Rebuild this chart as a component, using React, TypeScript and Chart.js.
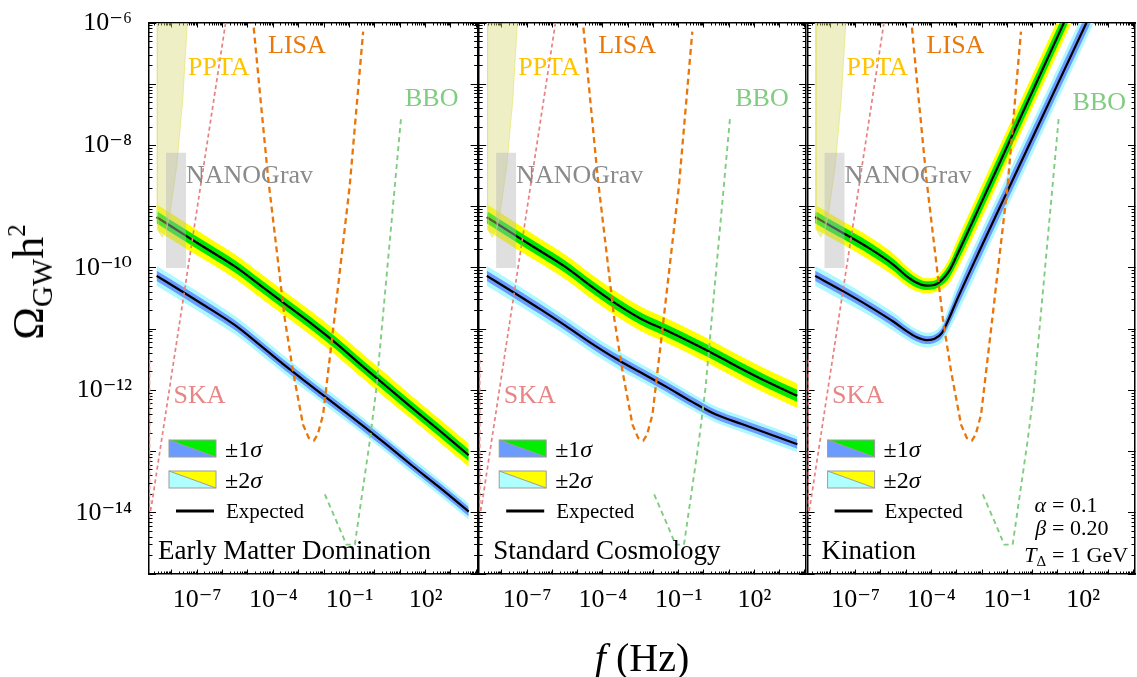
import React, { useEffect, useRef } from 'react';
import { Chart, registerables } from 'chart.js';

Chart.register(...registerables);

const SERIF = '"Liberation Serif", "DejaVu Serif", serif';

// ---------------- axes (log10 ranges) and labelled ticks ----------------
const xRangeLog10 = [-8.9, 4.05];
const yRangeLog10 = [-15, -6];
const xTickValues = [1e-7, 1e-4, 1e-1, 1e2];
const xTickLabels = ['10⁻⁷', '10⁻⁴', '10⁻¹', '10²'];
const yTickValues = [1e-6, 1e-8, 1e-10, 1e-12, 1e-14];
const yTickLabels = ['10⁻⁶', '10⁻⁸', '10⁻¹⁰', '10⁻¹²', '10⁻¹⁴'];

const panelTitles = ['Early Matter Domination', 'Standard Cosmology', 'Kination'];

// ---------------- GW signal bands: log10(f / Hz), log10(Ω h²), half widths in dex ----------------
const powerLawFreqLog = [-8.6, -7.5, -6.5, -5.5, -4.5, -3.5, -2.5, -1.5, -0.5, 0.5, 1.5, 2.5, 3.7];

const emdUpperLog = [-9.17, -9.46, -9.72, -9.98, -10.29, -10.6, -10.91, -11.24, -11.6, -11.95, -12.3, -12.64, -13.06];
const emdUpper1Sigma = [0.1, 0.1, 0.1, 0.1, 0.1, 0.1, 0.1, 0.1, 0.1, 0.1, 0.1, 0.1, 0.095];
const emdUpper2Sigma = [0.21, 0.21, 0.2, 0.2, 0.2, 0.2, 0.2, 0.2, 0.2, 0.2, 0.19, 0.19, 0.19];
const emdLowerLog = [-10.13, -10.41, -10.67, -10.94, -11.27, -11.61, -11.93, -12.25, -12.57, -12.9, -13.24, -13.57, -13.98];
const emdLower1Sigma = [0.085, 0.085, 0.085, 0.08, 0.08, 0.08, 0.08, 0.08, 0.08, 0.08, 0.075, 0.075, 0.075];
const emdLower2Sigma = [0.16, 0.16, 0.155, 0.15, 0.15, 0.145, 0.14, 0.14, 0.135, 0.13, 0.13, 0.13, 0.13];

const stdUpperLog = [-9.17, -9.46, -9.72, -9.98, -10.29, -10.58, -10.83, -11.02, -11.22, -11.43, -11.65, -11.86, -12.09];
const stdUpper1Sigma = [0.1, 0.1, 0.1, 0.1, 0.1, 0.1, 0.1, 0.1, 0.1, 0.1, 0.1, 0.1, 0.1];
const stdUpper2Sigma = [0.21, 0.21, 0.2, 0.2, 0.2, 0.2, 0.2, 0.2, 0.2, 0.2, 0.2, 0.2, 0.2];
const stdLowerLog = [-10.13, -10.41, -10.67, -10.94, -11.22, -11.48, -11.71, -11.94, -12.18, -12.4, -12.55, -12.7, -12.88];
const stdLower1Sigma = [0.085, 0.085, 0.085, 0.08, 0.08, 0.08, 0.08, 0.08, 0.08, 0.075, 0.075, 0.075, 0.075];
const stdLower2Sigma = [0.16, 0.16, 0.155, 0.15, 0.15, 0.145, 0.14, 0.14, 0.135, 0.13, 0.13, 0.13, 0.13];

const kinFreqLog = [-8.6, -7.5, -6.5, -5.5, -5.0, -4.6, -4.2, -3.9, -3.6, -3.3, -3.0, -2.0, -1.0, 0.0, 1.0, 2.0, 3.0];
const kinUpperLog = [-9.17, -9.43, -9.67, -9.95, -10.13, -10.24, -10.29, -10.28, -10.2, -10.05, -9.8, -8.91, -8.01, -7.11, -6.21, -5.31, -4.41];
const kinUpper1Sigma = [0.1, 0.1, 0.1, 0.095, 0.09, 0.08, 0.07, 0.07, 0.085, 0.11, 0.13, 0.15, 0.15, 0.15, 0.15, 0.15, 0.15];
const kinUpper2Sigma = [0.2, 0.19, 0.19, 0.18, 0.16, 0.14, 0.12, 0.12, 0.15, 0.2, 0.24, 0.27, 0.27, 0.27, 0.27, 0.27, 0.27];
const kinLowerLog = [-10.13, -10.38, -10.62, -10.88, -11.03, -11.13, -11.18, -11.16, -11.07, -10.82, -10.53, -9.63, -8.75, -7.87, -6.99, -6.11, -5.23];
const kinLower1Sigma = [0.085, 0.085, 0.08, 0.08, 0.075, 0.07, 0.065, 0.065, 0.08, 0.11, 0.13, 0.15, 0.15, 0.15, 0.15, 0.15, 0.15];
const kinLower2Sigma = [0.16, 0.16, 0.15, 0.15, 0.14, 0.13, 0.12, 0.12, 0.15, 0.2, 0.24, 0.26, 0.26, 0.26, 0.26, 0.26, 0.26];

// ---------------- detector sensitivities (log10 f, log10 Ω h²) ----------------
const skaFreqLog = [-8.88, -8.88, -8.8, -8.5, -8.0, -7.5, -7.0, -6.5, -6.0, -5.6];
const skaOmegaLog = [-11.5, -14.05, -13.88, -13.07, -11.72, -10.37, -9.02, -7.67, -6.32, -5.24];
const lisaFreqLog = [-4.85, -4.79, -4.5, -4.2, -3.9, -3.55, -3.22, -2.83, -2.6, -2.4, -2.25, -2.04, -1.64, -1.3, -0.99, -0.7, -0.46];
const lisaOmegaLog = [-5.75, -6.0, -7.27, -8.55, -9.6, -10.83, -11.7, -12.56, -12.78, -12.82, -12.72, -12.4, -10.99, -9.77, -8.66, -7.28, -6.14];
const bboFreqLog = [-1.97, -1.5, -1.12, -0.79, -0.5, -0.2, 0.06, 0.32, 0.7, 1.04];
const bboOmegaLog = [-13.7, -14.15, -14.52, -14.52, -13.69, -12.83, -11.97, -10.78, -9.06, -7.52];
const pptaFreqLog = [-8.57, -8.57, -8.52, -8.38, -8.2, -8.07, -7.81, -7.57, -7.39, -7.37];
const pptaOmegaLog = [-5.9, -9.1, -9.4, -9.5, -9.35, -9.1, -8.34, -7.25, -6.0, -5.9];
const nanogravFreqLog = [-8.23, -7.44, -7.44, -8.23];
const nanogravOmegaLog = [-8.12, -8.12, -10.0, -10.0];

// ---------------- layout ----------------
const W = 1137;
const H = 677;
const panelLeft = [149, 479.2, 807.6];
const panelRight = [477.6, 806.2, 1135];
const plotTop = 23;
const plotBottom = 574;

type PanelData = {
  f: number[]; up: number[]; up1: number[]; up2: number[]; lo: number[]; lo1: number[]; lo2: number[];
};
const panels: PanelData[] = [
  { f: powerLawFreqLog, up: emdUpperLog, up1: emdUpper1Sigma, up2: emdUpper2Sigma, lo: emdLowerLog, lo1: emdLower1Sigma, lo2: emdLower2Sigma },
  { f: powerLawFreqLog, up: stdUpperLog, up1: stdUpper1Sigma, up2: stdUpper2Sigma, lo: stdLowerLog, lo1: stdLower1Sigma, lo2: stdLower2Sigma },
  { f: kinFreqLog, up: kinUpperLog, up1: kinUpper1Sigma, up2: kinUpper2Sigma, lo: kinLowerLog, lo1: kinLower1Sigma, lo2: kinLower2Sigma },
];

const toPoints = (fLog: number[], omegaLog: number[], widthDex?: number[], sign = 0) =>
  fLog.map((lf, i) => ({ x: Math.pow(10, lf), y: Math.pow(10, omegaLog[i] + (widthDex ? sign * widthDex[i] : 0)) }));

function decadeTicks(lo: number, hi: number) {
  const out: number[] = [];
  for (let n = Math.ceil(lo - 1e-9); n <= Math.floor(hi + 1e-9); n++) out.push(Math.pow(10, n));
  return out;
}
function minorTicks(lo: number, hi: number) {
  const out: number[] = [];
  for (let n = Math.floor(lo); n <= Math.floor(hi); n++) {
    for (let k = 2; k <= 9; k++) {
      const v = k * Math.pow(10, n);
      const l = Math.log10(v);
      if (l > lo && l < hi) out.push(v);
    }
  }
  return out;
}

function labelFor(values: number[], labels: string[]) {
  return (value: number) => {
    const i = values.findIndex((v) => Math.abs(Math.log10(v) - Math.log10(value)) < 1e-6);
    return i >= 0 ? labels[i] : '';
  };
}

function logAxis(
  axis: 'x' | 'y', position: string, range: number[], tickVals: number[], len: number,
  border: boolean, size: number, weight: number,
  labels: null | { values: number[]; texts: string[]; padding: number },
) {
  return {
    type: 'logarithmic',
    axis,
    position,
    weight,
    min: Math.pow(10, range[0]),
    max: Math.pow(10, range[1]),
    z: 1,
    afterBuildTicks: (s: any) => { s.ticks = tickVals.map((v) => ({ value: v })); },
    afterFit: (s: any) => {
      if (axis === 'x') s.height = size; else s.width = size;
      s.paddingLeft = 0; s.paddingRight = 0; s.paddingTop = 0; s.paddingBottom = 0;
    },
    grid: { display: true, drawOnChartArea: false, drawTicks: true, tickLength: -len, tickWidth: 1, tickColor: '#000', color: '#000' },
    border: { display: border, color: '#000', width: 1.5 },
    ticks: {
      display: !!labels,
      autoSkip: false,
      maxRotation: 0,
      minRotation: 0,
      padding: labels ? labels.padding : 0,
      color: '#000',
      font: { family: SERIF, size: 26 },
      callback: labels ? labelFor(labels.values, labels.texts) : () => '',
    },
  };
}

type Run = { t: string; size: number; italic?: boolean; dy?: number };
function drawRuns(ctx: CanvasRenderingContext2D, runs: Run[], x: number, y: number, color: string, align: 'left' | 'right' = 'left') {
  ctx.fillStyle = color;
  ctx.textBaseline = 'alphabetic';
  ctx.textAlign = 'left';
  const fonts = runs.map((r) => `${r.italic ? 'italic ' : ''}${r.size}px ${SERIF}`);
  const widths = runs.map((r, i) => { ctx.font = fonts[i]; return ctx.measureText(r.t).width; });
  const total = widths.reduce((a, b) => a + b, 0);
  let cx = align === 'right' ? x - total : x;
  runs.forEach((r, i) => { ctx.font = fonts[i]; ctx.fillText(r.t, cx, y + (r.dy || 0)); cx += widths[i]; });
}

function swatch(ctx: CanvasRenderingContext2D, x: number, y: number, w: number, h: number, lowerLeft: string, upperRight: string) {
  ctx.fillStyle = lowerLeft;
  ctx.beginPath(); ctx.moveTo(x, y); ctx.lineTo(x, y + h); ctx.lineTo(x + w, y + h); ctx.closePath(); ctx.fill();
  ctx.fillStyle = upperRight;
  ctx.beginPath(); ctx.moveTo(x, y); ctx.lineTo(x + w, y); ctx.lineTo(x + w, y + h); ctx.closePath(); ctx.fill();
  ctx.strokeStyle = '#9c9c9c'; ctx.lineWidth = 1;
  ctx.strokeRect(x, y, w, h);
  ctx.beginPath(); ctx.moveTo(x, y); ctx.lineTo(x + w, y + h); ctx.stroke();
}

function annotationPlugin(k: number) {
  return {
    id: 'gwAnnotations',
    afterDatasetsDraw(chart: any) {
      const { ctx, chartArea: a } = chart;
      const L = a.left;
      const T = a.top;
      ctx.save();
      ctx.beginPath(); ctx.rect(a.left, a.top, a.right - a.left, a.bottom - a.top); ctx.clip();
      drawRuns(ctx, [{ t: 'PPTA', size: 26 }], L + 39, T + 52, '#ffc400');
      drawRuns(ctx, [{ t: 'LISA', size: 26 }], L + 119, T + 30, '#e8780c');
      drawRuns(ctx, [{ t: 'NANOGrav', size: 26 }], L + 37, T + 160, '#8a8a8a');
      drawRuns(ctx, [{ t: 'BBO', size: 26 }], L + (k === 2 ? 265 : 256), T + (k === 2 ? 87 : 83), '#80cc80');
      drawRuns(ctx, [{ t: 'SKA', size: 26 }], L + 24.5, T + 380, '#e88686');
      // legend
      swatch(ctx, L + 20, T + 417, 47, 17, '#6b9bff', '#00ee00');
      swatch(ctx, L + 20, T + 448, 47, 17, '#b0ffff', '#ffff00');
      drawRuns(ctx, [{ t: '±1', size: 24 }, { t: 'σ', size: 24, italic: true }], L + 76, T + 434, '#000');
      drawRuns(ctx, [{ t: '±2', size: 24 }, { t: 'σ', size: 24, italic: true }], L + 76, T + 465, '#000');
      ctx.strokeStyle = '#000'; ctx.lineWidth = 3;
      ctx.beginPath(); ctx.moveTo(L + 27, T + 488); ctx.lineTo(L + 65, T + 488); ctx.stroke();
      drawRuns(ctx, [{ t: 'Expected', size: 21 }], L + 77, T + 495, '#000');
      // panel title
      drawRuns(ctx, [{ t: panelTitles[k], size: 27 }], L + (k === 0 ? 9 : 14), T + 536, '#000');
      if (k === 2) {
        const lx = L + 238.5;
        const rx = L + 244.5;
        drawRuns(ctx, [{ t: 'α', size: 22, italic: true }], lx, T + 489, '#000', 'right');
        drawRuns(ctx, [{ t: '= 0.1', size: 22 }], rx, T + 489, '#000');
        drawRuns(ctx, [{ t: 'β', size: 22, italic: true }], lx, T + 512, '#000', 'right');
        drawRuns(ctx, [{ t: '= 0.20', size: 22 }], rx, T + 512, '#000');
        drawRuns(ctx, [{ t: 'T', size: 22, italic: true }, { t: 'Δ', size: 15, dy: 4 }], lx, T + 539, '#000', 'right');
        drawRuns(ctx, [{ t: '= 1 GeV', size: 22 }], rx, T + 539, '#000');
      }
      ctx.restore();
    },
  };
}

function buildConfig(k: number): any {
  const p = panels[k];
  const hidden = 'rgba(0,0,0,0)';
  const base = { pointRadius: 0, pointHoverRadius: 0, xAxisID: 'x', yAxisID: 'y', fill: false, tension: 0 };
  const band = { ...base, borderColor: hidden, borderWidth: 0, cubicInterpolationMode: 'monotone' };
  const datasets = [
    { ...base, label: 'NANOGrav', data: toPoints(nanogravFreqLog, nanogravOmegaLog), fill: 'shape', backgroundColor: 'rgba(185,185,185,0.45)', borderColor: hidden, borderWidth: 0, order: 0 },
    { ...base, label: 'PPTA', data: toPoints(pptaFreqLog, pptaOmegaLog), fill: 'shape', backgroundColor: 'rgba(218,218,120,0.42)', borderColor: 'rgba(230,230,110,0.7)', borderWidth: 1, order: 1 },
    { ...base, label: 'SKA', data: toPoints(skaFreqLog, skaOmegaLog), borderColor: '#e88080', borderWidth: 1.7, borderDash: [4, 3], order: 2 },
    { ...base, label: 'LISA', data: toPoints(lisaFreqLog, lisaOmegaLog), borderColor: '#e8760a', borderWidth: 2.3, borderDash: [6, 4], order: 3 },
    { ...base, label: 'BBO', data: toPoints(bboFreqLog, bboOmegaLog), borderColor: '#80cc80', borderWidth: 1.9, borderDash: [5, 4], order: 4 },
    { ...base, label: 'Expected (upper)', data: toPoints(p.f, p.up), borderColor: '#000', borderWidth: 2.2, cubicInterpolationMode: 'monotone', order: 5 },
    { ...band, label: 'upper +1σ', data: toPoints(p.f, p.up, p.up1, 1), fill: '+1', backgroundColor: '#00e800', order: 6 },
    { ...band, label: 'upper -1σ', data: toPoints(p.f, p.up, p.up1, -1), order: 6 },
    { ...band, label: 'upper +2σ', data: toPoints(p.f, p.up, p.up2, 1), fill: '+1', backgroundColor: '#ffff00', order: 7 },
    { ...band, label: 'upper -2σ', data: toPoints(p.f, p.up, p.up2, -1), order: 7 },
    { ...base, label: 'Expected (lower)', data: toPoints(p.f, p.lo), borderColor: '#000', borderWidth: 2.2, cubicInterpolationMode: 'monotone', order: 5 },
    { ...band, label: 'lower +1σ', data: toPoints(p.f, p.lo, p.lo1, 1), fill: '+1', backgroundColor: '#6b9bff', order: 8 },
    { ...band, label: 'lower -1σ', data: toPoints(p.f, p.lo, p.lo1, -1), order: 8 },
    { ...band, label: 'lower +2σ', data: toPoints(p.f, p.lo, p.lo2, 1), fill: '+1', backgroundColor: '#aef8ff', order: 9 },
    { ...band, label: 'lower -2σ', data: toPoints(p.f, p.lo, p.lo2, -1), order: 9 },
  ];

  const xMaj = decadeTicks(xRangeLog10[0], xRangeLog10[1]);
  const xMin = minorTicks(xRangeLog10[0], xRangeLog10[1]);
  const yMaj = decadeTicks(yRangeLog10[0], yRangeLog10[1]);
  const yMin = minorTicks(yRangeLog10[0], yRangeLog10[1]);
  const yLabelWidth = k === 0 ? panelLeft[0] : 0;

  return {
    type: 'line',
    data: { datasets },
    plugins: [annotationPlugin(k)],
    options: {
      responsive: false,
      animation: false,
      events: [],
      layout: {
        autoPadding: false,
        padding: { left: panelLeft[k] - yLabelWidth, right: W - panelRight[k], top: plotTop, bottom: 0 },
      },
      plugins: { legend: { display: false }, tooltip: { enabled: false }, title: { display: false } },
      scales: {
        xMinor: logAxis('x', 'bottom', xRangeLog10, xMin, 2.5, false, 0, 0, null),
        x: logAxis('x', 'bottom', xRangeLog10, xMaj, 4.5, true, H - plotBottom, 1, { values: xTickValues, texts: xTickLabels, padding: 15 }),
        xTopMinor: logAxis('x', 'top', xRangeLog10, xMin, 2.5, false, 0, 0, null),
        xTop: logAxis('x', 'top', xRangeLog10, xMaj, 4.5, true, 0, 1, null),
        yMinor: logAxis('y', 'left', yRangeLog10, yMin, 3.5, false, 0, 0, null),
        y: logAxis('y', 'left', yRangeLog10, yMaj, 7, true, yLabelWidth, 1, k === 0 ? { values: yTickValues, texts: yTickLabels, padding: 24 } : null),
        yRightMinor: logAxis('y', 'right', yRangeLog10, yMin, 3.5, false, 0, 0, null),
        yRight: logAxis('y', 'right', yRangeLog10, yMaj, 7, true, 0, 1, null),
      },
    },
  };
}

export default function App() {
  const r0 = useRef<HTMLCanvasElement>(null);
  const r1 = useRef<HTMLCanvasElement>(null);
  const r2 = useRef<HTMLCanvasElement>(null);
  useEffect(() => {
    const charts = [r0, r1, r2].map((r, k) => new Chart(r.current as HTMLCanvasElement, buildConfig(k)));
    return () => charts.forEach((c) => c.destroy());
  }, []);
  const canvasStyle: React.CSSProperties = { position: 'absolute', left: 0, top: 0, width: W, height: H };
  return (
    <div style={{ position: 'absolute', left: 0, top: 0, width: W, height: H, background: '#fff', overflow: 'hidden' }}>
      <canvas ref={r0} width={W} height={H} style={canvasStyle} />
      <canvas ref={r1} width={W} height={H} style={canvasStyle} />
      <canvas ref={r2} width={W} height={H} style={canvasStyle} />
      <div
        style={{
          position: 'absolute', left: 29, top: 282, transform: 'translate(-50%, -50%) rotate(-90deg)',
          fontFamily: SERIF, fontSize: 44, lineHeight: 1, whiteSpace: 'nowrap', color: '#000',
        }}
      >
        Ω<span style={{ fontSize: 29, position: 'relative', top: 9 }}>GW</span>h
        <span style={{ fontSize: 25, position: 'relative', top: -18 }}>2</span>
      </div>
      <div
        style={{
          position: 'absolute', left: 642, top: 638, transform: 'translateX(-50%)',
          fontFamily: SERIF, fontSize: 40, lineHeight: 1, whiteSpace: 'nowrap', color: '#000',
        }}
      >
        <span style={{ fontStyle: 'italic' }}>f</span> (Hz)
      </div>
    </div>
  );
}
